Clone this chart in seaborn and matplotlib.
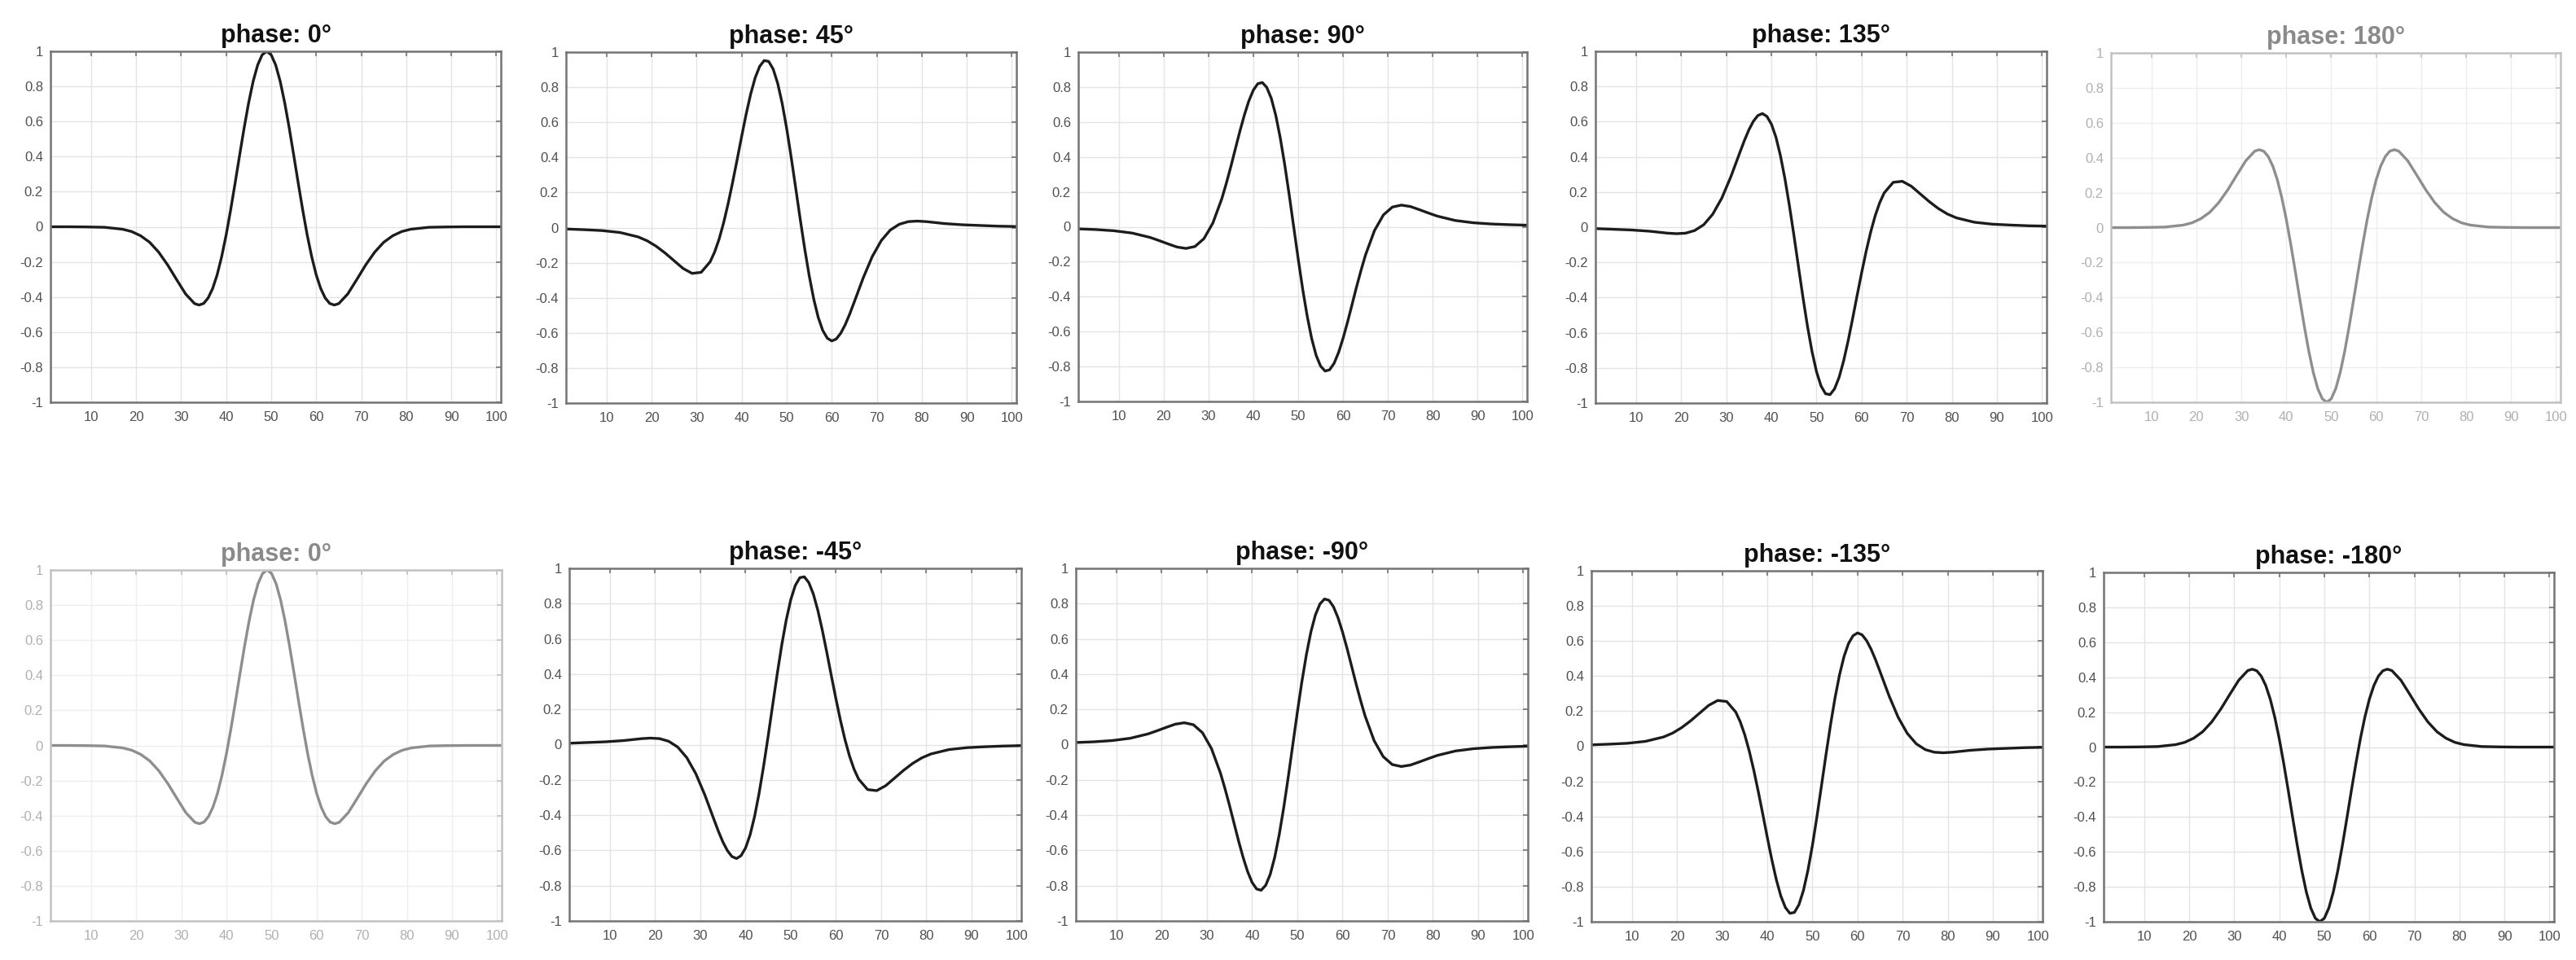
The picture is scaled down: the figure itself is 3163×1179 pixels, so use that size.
import matplotlib
matplotlib.use('Agg')
import matplotlib.pyplot as plt
import seaborn as sns

# sample positions (x axis runs 1..101, wavelet centred near 49)
x_samples = [1, 5, 9, 13, 17, 19, 21, 23, 25, 27, 29, 31,
             33, 34, 35, 36, 37, 38, 39, 40, 41, 42, 43, 44, 45, 46, 47, 48,
             49,
             50, 51, 52, 53, 54, 55, 56, 57, 58, 59, 60, 61, 62, 63, 64, 65,
             67, 69, 71, 73, 75, 77, 79, 81, 85, 89, 93, 97, 101]

# values
phase_0 = [0.000, 0.000, -0.001, -0.003, -0.014, -0.027, -0.051, -0.088, -0.144, -0.217, -0.301, -0.383,
           -0.438, -0.446, -0.437, -0.406, -0.352, -0.274, -0.171, -0.047, 0.096, 0.250, 0.409, 0.564,
           0.707, 0.829, 0.922, 0.980,
           1.000,
           0.980, 0.922, 0.829, 0.707, 0.564, 0.409, 0.250, 0.096, -0.047, -0.171, -0.274, -0.352,
           -0.406, -0.437, -0.446, -0.438,
           -0.383, -0.301, -0.217, -0.144, -0.088, -0.051, -0.027, -0.014, -0.003, -0.001, 0.000, 0.000, 0.000]

phase_45 = [-0.008, -0.012, -0.017, -0.028, -0.053, -0.075, -0.106, -0.145, -0.189, -0.233, -0.261, -0.255,
            -0.195, -0.139, -0.065, 0.028, 0.137, 0.259, 0.388, 0.520, 0.647, 0.761, 0.854, 0.919,
            0.952, 0.947, 0.903, 0.822,
            0.707,
            0.564, 0.400, 0.225, 0.048, -0.121, -0.275, -0.407, -0.512, -0.586, -0.630, -0.646, -0.635,
            -0.602, -0.553, -0.492, -0.424,
            -0.286, -0.165, -0.074, -0.014, 0.019, 0.034, 0.037, 0.034, 0.023, 0.016, 0.012, 0.008, 0.006]

phase_90 = [-0.012, -0.016, -0.023, -0.036, -0.061, -0.079, -0.098, -0.116, -0.124, -0.113, -0.068, 0.022,
            0.162, 0.250, 0.345, 0.446, 0.546, 0.639, 0.720, 0.782, 0.819, 0.826, 0.798, 0.736,
            0.639, 0.510, 0.356, 0.183,
            0.000,
            -0.183, -0.356, -0.510, -0.639, -0.736, -0.798, -0.826, -0.819, -0.782, -0.720, -0.639, -0.546,
            -0.446, -0.345, -0.250, -0.162,
            -0.022, 0.068, 0.113, 0.124, 0.116, 0.098, 0.079, 0.061, 0.036, 0.023, 0.016, 0.012, 0.009]

phase_135 = [-0.008, -0.012, -0.016, -0.023, -0.034, -0.037, -0.034, -0.019, 0.014, 0.074, 0.165, 0.286,
             0.424, 0.492, 0.553, 0.602, 0.635, 0.646, 0.630, 0.586, 0.512, 0.407, 0.275, 0.121,
             -0.048, -0.225, -0.400, -0.564,
             -0.707,
             -0.822, -0.903, -0.947, -0.952, -0.919, -0.854, -0.761, -0.647, -0.520, -0.388, -0.259, -0.137,
             -0.028, 0.065, 0.139, 0.195,
             0.255, 0.261, 0.233, 0.189, 0.145, 0.106, 0.075, 0.053, 0.028, 0.017, 0.012, 0.008, 0.006]

phase_180 = [0.000, 0.000, 0.001, 0.003, 0.014, 0.027, 0.051, 0.088, 0.144, 0.217, 0.301, 0.383,
             0.438, 0.446, 0.437, 0.406, 0.352, 0.274, 0.171, 0.047, -0.096, -0.250, -0.409, -0.564,
             -0.707, -0.829, -0.922, -0.980,
             -1.000,
             -0.980, -0.922, -0.829, -0.707, -0.564, -0.409, -0.250, -0.096, 0.047, 0.171, 0.274, 0.352,
             0.406, 0.437, 0.446, 0.438,
             0.383, 0.301, 0.217, 0.144, 0.088, 0.051, 0.027, 0.014, 0.003, 0.001, 0.000, 0.000, 0.000]

phase_m45 = [0.008, 0.012, 0.016, 0.023, 0.034, 0.037, 0.034, 0.019, -0.014, -0.074, -0.165, -0.286,
             -0.424, -0.492, -0.553, -0.602, -0.635, -0.646, -0.630, -0.586, -0.512, -0.407, -0.275, -0.121,
             0.048, 0.225, 0.400, 0.564,
             0.707,
             0.822, 0.903, 0.947, 0.952, 0.919, 0.854, 0.761, 0.647, 0.520, 0.388, 0.259, 0.137,
             0.028, -0.065, -0.139, -0.195,
             -0.255, -0.261, -0.233, -0.189, -0.145, -0.106, -0.075, -0.053, -0.028, -0.017, -0.012, -0.008, -0.006]

phase_m90 = [0.012, 0.016, 0.023, 0.036, 0.061, 0.079, 0.098, 0.116, 0.124, 0.113, 0.068, -0.022,
             -0.162, -0.250, -0.345, -0.446, -0.546, -0.639, -0.720, -0.782, -0.819, -0.826, -0.798, -0.736,
             -0.639, -0.510, -0.356, -0.183,
             0.000,
             0.183, 0.356, 0.510, 0.639, 0.736, 0.798, 0.826, 0.819, 0.782, 0.720, 0.639, 0.546,
             0.446, 0.345, 0.250, 0.162,
             0.022, -0.068, -0.113, -0.124, -0.116, -0.098, -0.079, -0.061, -0.036, -0.023, -0.016, -0.012, -0.009]

phase_m135 = [0.008, 0.012, 0.017, 0.028, 0.053, 0.075, 0.106, 0.145, 0.189, 0.233, 0.261, 0.255,
              0.195, 0.139, 0.065, -0.028, -0.137, -0.259, -0.388, -0.520, -0.647, -0.761, -0.854, -0.919,
              -0.952, -0.947, -0.903, -0.822,
              -0.707,
              -0.564, -0.400, -0.225, -0.048, 0.121, 0.275, 0.407, 0.512, 0.586, 0.630, 0.646, 0.635,
              0.602, 0.553, 0.492, 0.424,
              0.286, 0.165, 0.074, 0.014, -0.019, -0.034, -0.037, -0.034, -0.023, -0.016, -0.012, -0.008, -0.006]

x_ticks = [10, 20, 30, 40, 50, 60, 70, 80, 90, 100]
y_ticks = [-1, -0.8, -0.6, -0.4, -0.2, 0, 0.2, 0.4, 0.6, 0.8, 1]
y_tick_labels = ['-1', '-0.8', '-0.6', '-0.4', '-0.2', '0', '0.2', '0.4', '0.6', '0.8', '1']

# title, series, greyed out?
panels = [
    ('phase: 0°', phase_0, False),
    ('phase: 45°', phase_45, False),
    ('phase: 90°', phase_90, False),
    ('phase: 135°', phase_135, False),
    ('phase: 180°', phase_180, True),
    ('phase: 0°', phase_0, True),
    ('phase: -45°', phase_m45, False),
    ('phase: -90°', phase_m90, False),
    ('phase: -135°', phase_m135, False),
    ('phase: -180°', phase_180, False),
]

# axes boxes in pixels (left, top, right, bottom)
boxes = [
    (62, 63, 615, 494), (695, 64, 1248, 495), (1324, 64, 1875, 493),
    (1959, 63, 2513, 495), (2592, 65, 3144, 494),
    (62, 700, 616, 1131), (699, 698, 1254, 1131), (1321, 698, 1876, 1131),
    (1954, 701, 2508, 1132), (2583, 703, 3136, 1132),
]

W, H = 3163, 1179

sns.set_theme(style='whitegrid')
plt.rcParams['font.family'] = ['Liberation Sans', 'DejaVu Sans']

dark = dict(line='#1c1c1c', title='#111111', label='#505050', spine='#747474', grid='#e4e4e4')
pale = dict(line='#8e8e8e', title='#8a8a8a', label='#b0b0b0', spine='#c2c2c2', grid='#eeeeee')

fig = plt.figure(figsize=(W / 100, H / 100), dpi=100)
fig.patch.set_facecolor('white')

for (title, ys, faded), (l, t, r, b) in zip(panels, boxes):
    c = pale if faded else dark
    ax = fig.add_axes([l / W, 1 - b / H, (r - l) / W, (b - t) / H])
    ax.set_facecolor('white')
    sns.lineplot(x=x_samples, y=ys, ax=ax, color=c['line'], linewidth=2.4)
    ax.set_xlim(1, 101)
    ax.set_ylim(-1, 1)
    ax.set_xticks(x_ticks)
    ax.set_yticks(y_ticks)
    ax.set_yticklabels(y_tick_labels)
    ax.grid(True, color=c['grid'], linewidth=1.0)
    ax.set_axisbelow(True)
    for s in ax.spines.values():
        s.set_visible(True)
        s.set_color(c['spine'])
        s.set_linewidth(1.8)
    ax.tick_params(direction='in', length=4, width=1.2, top=True, right=True,
                   color=c['spine'], labelcolor=c['label'], labelsize=12)
    ax.tick_params(axis='y', pad=6.5)
    ax.tick_params(axis='x', pad=8)
    ax.set_xlabel('')
    ax.set_ylabel('')
    ax.set_title(title, fontsize=22, fontweight='bold', color=c['title'], pad=8)

fig.savefig('out.png', dpi=100, facecolor='white')
